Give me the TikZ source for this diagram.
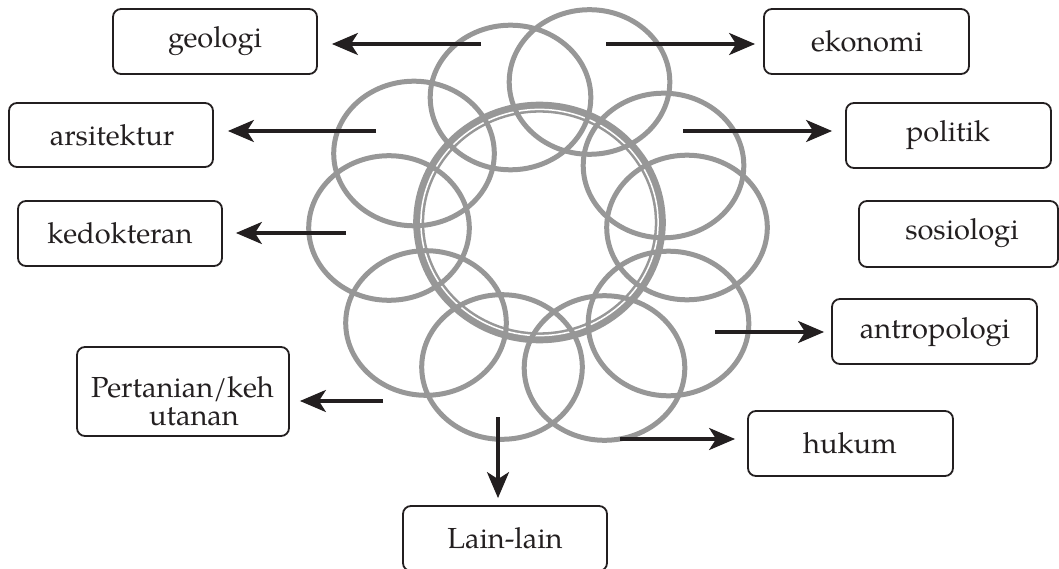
\documentclass[tikz,border=0pt]{standalone}
\usepackage{fontspec}
\setmainfont{TeX Gyre Pagella}
\usetikzlibrary{arrows.meta}
\definecolor{ringgray}{HTML}{979797}
\definecolor{inkblack}{HTML}{231F20}
\tikzset{
  x=1pt, y=-1pt,
  ring/.style={draw=ringgray, line width=5pt},
  boxnode/.style={draw=inkblack, line width=1.8pt, rounded corners=8pt, inner sep=0pt},
  lbl/.style={anchor=base, inner sep=0pt, font=\fontsize{29}{34}\selectfont, text=inkblack},
  arr/.style={draw=inkblack, line width=3.3pt, -{Stealth[length=26pt,width=22pt,inset=7pt]}}
}
\begin{document}
\begin{tikzpicture}
\useasboundingbox (0,0) rectangle (1059,569);
% central double ring
\draw[draw=ringgray, line width=11pt] (539.5,222.5) ellipse [x radius=120.8, y radius=115.3];
\draw[draw=white, line width=1.5pt] (539.5,222.5) ellipse [x radius=118.6, y radius=113.1];
% surrounding ellipses
\foreach \cx/\cy in {510.5/97.5, 589.5/82, 663.5/165.5, 687/227.5, 668.5/323.5,
                     604.5/368, 502/367, 426/323, 389/228, 414/153.5}
  \draw[ring] (\cx,\cy) ellipse [x radius=80.3, y radius=72.3];
% boxes
\node[boxnode, minimum width=204pt, minimum height=65pt] (geo) at (215,41.5) {};
\node[boxnode, minimum width=205pt, minimum height=65pt] (eko) at (866.5,41.5) {};
\node[boxnode, minimum width=204pt, minimum height=64pt] (ars) at (111,135) {};
\node[boxnode, minimum width=205pt, minimum height=65pt] (pol) at (948.5,135.5) {};
\node[boxnode, minimum width=204pt, minimum height=65pt] (ked) at (120,233.5) {};
\node[boxnode, minimum width=199pt, minimum height=66pt] (sos) at (958.5,234) {};
\node[boxnode, minimum width=205pt, minimum height=65pt] (ant) at (934.5,331.5) {};
\node[boxnode, minimum width=212pt, minimum height=89pt] (per) at (183,391.5) {};
\node[boxnode, minimum width=205pt, minimum height=65pt] (huk) at (850.5,443.5) {};
\node[boxnode, minimum width=204pt, minimum height=65pt] (lain) at (505,538.5) {};
% labels
\node[lbl] (tgeo) at (215,47.5) {geologi};
\node[lbl] (teko) at (867,52) {ekonomi};
\node[lbl] (tars) at (112,146) {arsitektur};
\node[lbl] (tpol) at (948,142) {politik};
\node[lbl] (tked) at (120,243.5) {kedokteran};
\node[lbl] (tsos) at (962,239.5) {sosiologi};
\node[lbl] (tant) at (935,338.5) {antropologi};
\node[lbl] (tper1) at (182.5,397) {Pertanian/keh};
\node[lbl] (tper2) at (194,425) {utanan};
\node[lbl] (thuk) at (850,453) {hukum};
\node[lbl] (tlain) at (505,548) {Lain-lain};
% arrow starts
\coordinate (cGeo) at (481,44);
\coordinate (cEko) at (606,44);
\coordinate (cArs) at (376,131);
\coordinate (cKed) at (346,233);
\coordinate (cPol) at (683,131);
\coordinate (cAnt) at (715,332);
\coordinate (cHuk) at (620,439);
\coordinate (cPer) at (383,401);
\coordinate (cLain) at (498,417);
% arrows
\draw[arr, shorten >=14pt] (cGeo) -- (cGeo -| geo.east);
\draw[arr, shorten >=8pt] (cEko) -- (cEko -| eko.west);
\draw[arr, shorten >=14pt] (cArs) -- (cArs -| ars.east);
\draw[arr, shorten >=13pt] (cKed) -- (cKed -| ked.east);
\draw[arr, shorten >=13pt] (cPol) -- (cPol -| pol.west);
\draw[arr, shorten >=7pt] (cAnt) -- (cAnt -| ant.west);
\draw[arr, shorten >=12pt] (cHuk) -- (cHuk -| huk.west);
\draw[arr, shorten >=10pt] (cPer) -- (cPer -| per.east);
\draw[arr, shorten >=7pt] (cLain) -- (cLain |- lain.north);
\end{tikzpicture}
\end{document}
